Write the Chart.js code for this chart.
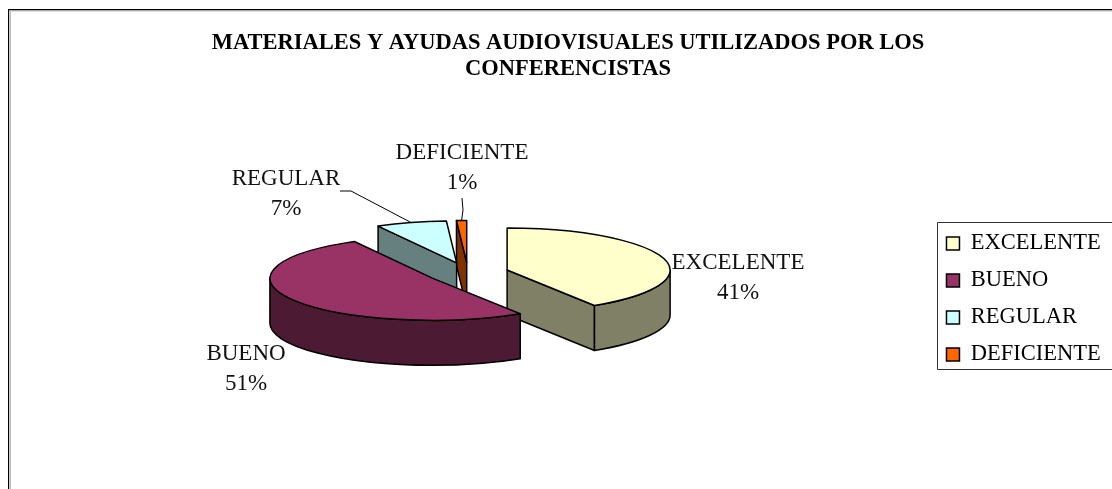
<!DOCTYPE html>
<html><head><meta charset="utf-8">
<style>html,body{margin:0;padding:0;background:#fff}canvas{display:block}</style>
<script src="https://cdn.jsdelivr.net/npm/chart.js@4/dist/chart.umd.min.js"></script>
</head><body><div style="width:1112px;height:489px"><canvas id="c" width="1112" height="489"></canvas></div>
<script>
const categories = ['EXCELENTE','BUENO','REGULAR','DEFICIENTE'];
const values = [41,51,7,1];
const topColors = ['#FFFFCC','#993366','#CCFFFF','#FF6600'];
const wallColors = ['#808066','#4D1A33','#668080','#803300'];
const titleLines = ['MATERIALES Y AYUDAS AUDIOVISUALES UTILIZADOS POR LOS','CONFERENCISTAS'];

const RADIUS=163, TILT=42/163, DEPTH=45, EXPLODE=0.25;
const SERIF='"Liberation Serif", serif';
const labelPos = [{x:738,y:263},{x:246,y:354},{x:286,y:179},{x:462,y:153}];
const leaders = {2:[[340,191],[351,191]],3:[[462,198],[463,210]]};
const drawOrder=[3,2,0,1];

function geom(arc){
  const mid=(arc.startAngle+arc.endAngle)/2;
  return {cx:arc.x+EXPLODE*RADIUS*Math.cos(mid), cy:arc.y+EXPLODE*RADIUS*TILT*Math.sin(mid)};
}
function pt(g,a,dy){return [g.cx+RADIUS*Math.cos(a), g.cy+RADIUS*TILT*Math.sin(a)+(dy||0)];}
function poly(ctx,pts,fill){
  ctx.beginPath();pts.forEach((p,i)=>i?ctx.lineTo(p[0],p[1]):ctx.moveTo(p[0],p[1]));ctx.closePath();
  ctx.fillStyle=fill;ctx.fill();ctx.stroke();
}
const pie3d={id:'pie3d',
  afterLayout(chart){
    const L=chart.legend; L.top+=60; L.bottom+=60; L.left-=1.3; L.right-=1.3;
    const T=chart.titleBlock; T.left+=10.65; T.right+=10.65;
  },
  beforeDatasetsDraw(chart){
    const ctx=chart.ctx, arcs=chart.getDatasetMeta(0).data;
    ctx.save();ctx.lineWidth=1.5;ctx.strokeStyle='#000';ctx.lineJoin='round';
    drawOrder.forEach(i=>{
      const arc=arcs[i], g=geom(arc), a0=arc.startAngle, a1=arc.endAngle;
      const wall=wallColors[i];
      if(Math.cos(a0)<-1e-6){const p=pt(g,a0);poly(ctx,[p,[g.cx,g.cy],[g.cx,g.cy+DEPTH],[p[0],p[1]+DEPTH]],wall);}
      if(Math.cos(a1)>1e-6){const p=pt(g,a1);poly(ctx,[p,[g.cx,g.cy],[g.cx,g.cy+DEPTH],[p[0],p[1]+DEPTH]],wall);}
      const r0=Math.max(a0,0), r1=Math.min(a1,Math.PI);
      if(r1>r0){
        ctx.beginPath();
        ctx.ellipse(g.cx,g.cy,RADIUS,RADIUS*TILT,0,r0,r1);
        ctx.ellipse(g.cx,g.cy+DEPTH,RADIUS,RADIUS*TILT,0,r1,r0,true);
        ctx.closePath();ctx.fillStyle=wall;ctx.fill();ctx.stroke();
      }
      ctx.save();
      ctx.translate(g.cx,g.cy);ctx.scale(1,TILT);ctx.translate(-arc.x,-arc.y);
      arc.draw(ctx);
      ctx.restore();
      ctx.beginPath();
      ctx.moveTo(g.cx,g.cy);
      ctx.ellipse(g.cx,g.cy,RADIUS,RADIUS*TILT,0,a0,a1);
      ctx.closePath();ctx.stroke();
    });
    ctx.restore();
    return false;
  },
  afterDraw(chart){
    const ctx=chart.ctx, arcs=chart.getDatasetMeta(0).data;
    ctx.save();
    ctx.strokeStyle='#bdbdbd';ctx.lineWidth=1;
    ctx.beginPath();ctx.moveTo(10.5,489);ctx.lineTo(10.5,11);ctx.lineTo(1112,11);ctx.stroke();
    ctx.strokeStyle='#000';ctx.lineWidth=1.2;
    ctx.beginPath();ctx.moveTo(8.6,489);ctx.lineTo(8.6,9.6);ctx.lineTo(1112,9.6);ctx.stroke();
    ctx.strokeStyle='#333';ctx.lineWidth=1;
    ctx.beginPath();ctx.moveTo(1112,222.5);ctx.lineTo(937.5,222.5);ctx.lineTo(937.5,369.5);ctx.lineTo(1112,369.5);ctx.stroke();
    ctx.strokeStyle='#000';ctx.lineWidth=1;
    Object.keys(leaders).forEach(k=>{
      const arc=arcs[k], g=geom(arc), e=pt(g,(arc.startAngle+arc.endAngle)/2);
      ctx.beginPath();leaders[k].forEach((p,i)=>i?ctx.lineTo(p[0],p[1]):ctx.moveTo(p[0],p[1]));ctx.lineTo(e[0],e[1]);ctx.stroke();
    });
    ctx.fillStyle='#111';ctx.font='23px '+SERIF;ctx.textAlign='center';ctx.textBaseline='middle';
    const total=values.reduce((a,b)=>a+b,0);
    categories.forEach((c,i)=>{
      ctx.fillText(c,labelPos[i].x,labelPos[i].y);
      ctx.fillText(Math.round(values[i]/total*100)+'%',labelPos[i].x,labelPos[i].y+30);
    });
    ctx.restore();
  }
};
new Chart(document.getElementById('c'),{
  type:'pie',
  data:{labels:categories,datasets:[{data:values,backgroundColor:topColors,borderWidth:0,radius:RADIUS}]},
  plugins:[pie3d],
  options:{
    responsive:false,animation:false,
    layout:{padding:{top:24,bottom:35,left:2.7,right:0}},
    plugins:{
      tooltip:{enabled:false},
      title:{display:true,text:titleLines,color:'#000',font:{family:SERIF,size:22.5,weight:'bold',lineHeight:1.155},padding:{top:6,bottom:10}},
      legend:{position:'right',labels:{
        color:'#111',font:{family:SERIF,size:22.5},boxWidth:13,boxHeight:13,padding:14.5,
        generateLabels(chart){return categories.map((c,i)=>({text:c,fillStyle:topColors[i],strokeStyle:'#000',lineWidth:1.5,index:i}));}
      }}
    }
  }
});
</script></body></html>
